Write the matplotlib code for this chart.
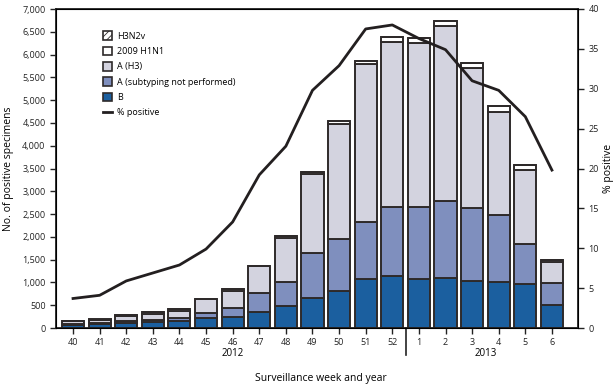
import matplotlib
matplotlib.use("Agg")
import matplotlib.pyplot as plt
import numpy as np
from matplotlib.lines import Line2D
from matplotlib.patches import Patch

plt.rcParams["font.family"] = ["Open Sans", "DejaVu Sans"]
plt.rcParams["hatch.linewidth"] = 0.6

weeks = ["40", "41", "42", "43", "44", "45", "46", "47", "48", "49", "50", "51", "52",
         "1", "2", "3", "4", "5", "6"]
b_vals = [70, 85, 110, 125, 150, 210, 250, 360, 480, 650, 810, 1070, 1140,
          1070, 1090, 1040, 1015, 965, 500]
a_np = [25, 30, 50, 50, 60, 125, 190, 400, 535, 1000, 1140, 1255, 1515,
        1585, 1700, 1585, 1465, 880, 480]
a_h3 = [55, 65, 100, 130, 170, 295, 380, 590, 970, 1730, 2530, 3465, 3625,
        3605, 3835, 3075, 2265, 1625, 460]
h1n1 = [5, 5, 25, 40, 35, 10, 35, 20, 25, 40, 60, 75, 110,
        95, 110, 115, 125, 110, 50]
h3n2v = [5, 5, 0, 0, 0, 0, 0, 0, 0, 0, 0, 0, 0,
         0, 0, 0, 0, 0, 0]
pct_pos = [3.7, 4.1, 5.9, 6.9, 7.9, 9.9, 13.3, 19.2, 22.8, 29.8, 32.9, 37.5, 38.0,
           36.3, 34.9, 31.0, 29.8, 26.5, 19.8]

series = [
    ("B", b_vals, "#1b5f9f", None),
    ("A (subtyping not performed)", a_np, "#7f8fbe", None),
    ("A (H3)", a_h3, "#d3d3df", None),
    ("2009 H1N1", h1n1, "#ffffff", None),
    ("H3N2v", h3n2v, "#ffffff", "/////"),
]
edge = "#2e2a2a"

fig = plt.figure(figsize=(6.13, 3.87), dpi=100)
ax = fig.add_axes([56 / 613, 1 - 328 / 387, (578 - 56) / 613, (328 - 9) / 387])
x = np.arange(len(weeks))
bottom = np.zeros(len(weeks))
for name, vals, col, hatch in series:
    vals = np.array(vals, dtype=float)
    ax.bar(x, vals, 0.83, bottom=bottom, color=col, edgecolor=edge, linewidth=1.4,
           hatch=hatch)
    bottom += vals

ax.set_xlim(-0.64, 18.98)
ax.set_ylim(0, 7000)
ax.set_yticks(np.arange(0, 7001, 500))
ax.set_yticklabels([f"{v:,}" for v in range(0, 7001, 500)])
ax.set_xticks(x)
ax.set_xticklabels(weeks)
ax.tick_params(labelsize=6.5, length=4, width=1, direction="out", colors="#222")
for s in ax.spines.values():
    s.set_linewidth(1.3)
    s.set_color("#222")
ax.set_ylabel("No. of positive specimens", fontsize=7.5, labelpad=6)

ax2 = ax.twinx()
ax2.plot(x, pct_pos, color="#231f20", lw=2)
ax2.set_ylim(0, 40)
ax2.set_yticks(range(0, 41, 5))
ax2.tick_params(labelsize=6.5, length=4, width=1, direction="out", colors="#222")
ax2.set_ylabel("% positive", fontsize=7.5, labelpad=3)

# year separator and labels
ax.plot([12.5, 12.5], [0, -600], color="#222", lw=1.2, clip_on=False)
ax.text(6, -560, "2012", ha="center", va="center", fontsize=7)
ax.text(15.5, -560, "2013", ha="center", va="center", fontsize=7)
ax.text(9.3, -1100, "Surveillance week and year", ha="center", va="center", fontsize=7.5)

handles = [Patch(facecolor=c, edgecolor=edge, hatch=h, linewidth=1.2, label=n)
           for n, _, c, h in series[::-1]]
handles.append(Line2D([0], [0], color="#231f20", lw=2, label="% positive"))
ax.legend(handles=handles, loc="upper left", bbox_to_anchor=(0.075, 0.955), frameon=False,
          fontsize=6.5, handlelength=1.0, handleheight=1.1, labelspacing=0.65,
          handletextpad=0.5)

fig.savefig("out.png", dpi=100)
